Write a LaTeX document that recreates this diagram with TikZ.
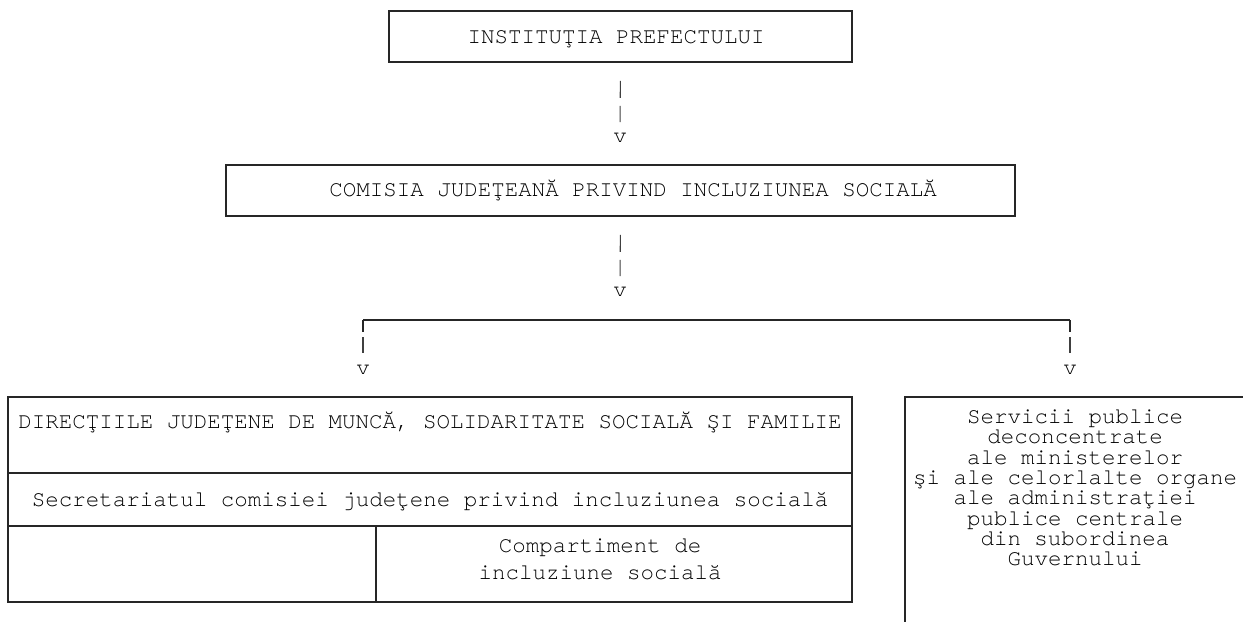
\documentclass[tikz,border=0pt]{standalone}
\usepackage{fontspec}
\setmonofont{texgyrecursor-regular.otf}
\newcommand\chartfont{\ttfamily\fontsize{11.25}{10.15}\selectfont\lineskiplimit=-10pt\relax}
\begin{document}
\begin{tikzpicture}[x=0.5pt,y=-0.5pt,
  box/.style={draw=black!85,line width=0.9pt,inner sep=0pt},
  rule/.style={draw=black!85,line width=0.9pt},
  pipe/.style={draw=black!75,line width=0.55pt},
  txt/.style={font=\chartfont,inner sep=0pt,align=center}]

\useasboundingbox (0,0) rectangle (1243,622);

\node[box,minimum width=231.5pt,minimum height=25.5pt] (prefect) at (620.5,36.5) {};
\node[txt,anchor=base] (prefecttxt) at (616,43.5) {INSTITUŢIA PREFECTULUI};

\node[txt,anchor=north] (v1) at (620,133) {v};
\draw[pipe,dash pattern=on 8.5pt off 4pt,shorten <=9pt,shorten >=5.5pt] (prefect.south) -- (v1.north);

\node[box,minimum width=394.5pt,minimum height=25.5pt] (comisia) at (620.5,190.5) {};
\node[txt,anchor=base] (comisiatxt) at (633,196.5) {COMISIA JUDEŢEANĂ PRIVIND INCLUZIUNEA SOCIALĂ};

\node[txt,anchor=north] (v2) at (620,287) {v};
\draw[pipe,dash pattern=on 8.5pt off 4pt,shorten <=9pt,shorten >=5.5pt] (comisia.south) -- (v2.north);

\coordinate (bl) at (363,320);
\coordinate (br) at (1070,320);
\draw[rule] (bl) -- (br);
\node[txt,anchor=north] (vl) at (363,365) {v};
\node[txt,anchor=north] (vr) at (1070,365) {v};
\draw[rule] (bl) -- ++(0,12);
\draw[rule] (br) -- ++(0,12);
\draw[pipe,dash pattern=on 0pt off 8.5pt on 8pt off 10pt,shorten >=6pt] (bl) -- (vl.north);
\draw[pipe,dash pattern=on 0pt off 8.5pt on 8pt off 10pt,shorten >=6pt] (br) -- (vr.north);

\node[box,minimum width=422pt,minimum height=102.5pt] (directii) at (430,499.5) {};
\draw[rule] (8,473) -- (852,473)
            (8,526) -- (852,526)
            (376,526) -- (376,602);
\node[txt,anchor=base] (directiitxt) at (430,428.5) {DIRECŢIILE JUDEŢENE DE MUNCĂ, SOLIDARITATE SOCIALĂ ŞI FAMILIE};
\node[txt,anchor=base] (secretariat) at (430,506) {Secretariatul comisiei judeţene privind incluziunea socială};
\node[txt] (compartiment) at (600,559.5) {Compartiment de\\[3.35pt] incluziune socială};

\draw[rule] (1243,397) -- (905,397) -- (905,622);
\node[txt] (servicii) at (1075,488) {Servicii publice\\ deconcentrate\\ ale ministerelor\\ şi ale celorlalte organe\\ ale administraţiei\\ publice centrale\\ din subordinea\\ Guvernului};

\end{tikzpicture}
\end{document}
